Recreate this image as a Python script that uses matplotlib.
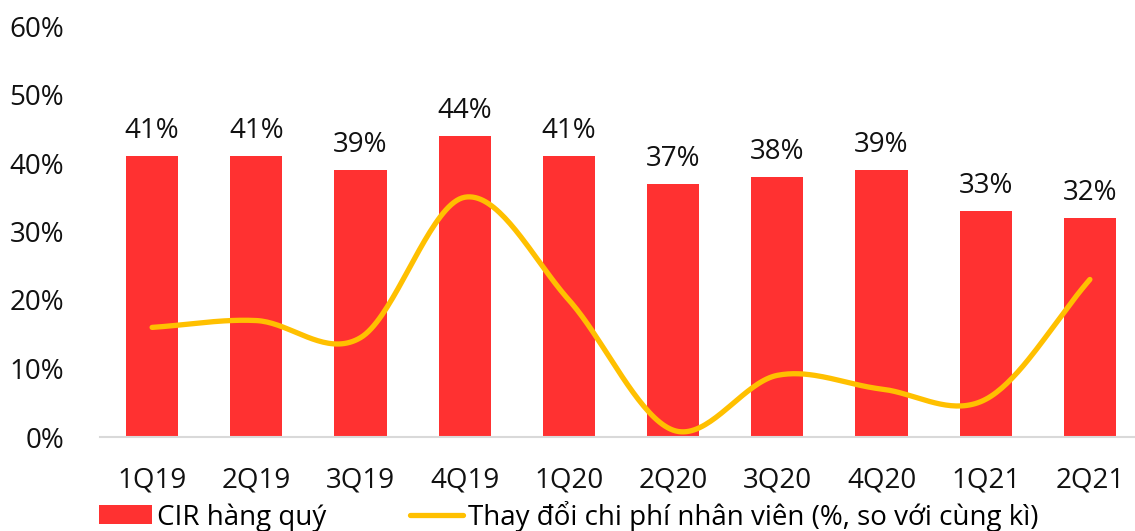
import numpy as np
import matplotlib.pyplot as plt
from matplotlib.ticker import PercentFormatter

plt.rcParams['font.family'] = ['Open Sans', 'DejaVu Sans']

quarters = ["1Q19", "2Q19", "3Q19", "4Q19", "1Q20", "2Q20", "3Q20", "4Q20", "1Q21", "2Q21"]
cir = [41, 41, 39, 44, 41, 37, 38, 39, 33, 32]
staff_cost_yoy = [16, 17, 14.5, 35, 20, 1, 9, 7, 5.5, 23]

BAR_COLOR = "#FF3131"
LINE_COLOR = "#FFC000"


def smooth(xs, ys, n=40):
    # Catmull-Rom spline through the points, like Excel's smoothed line
    xs = np.asarray(xs, float)
    ys = np.asarray(ys, float)
    px = np.concatenate([[2 * xs[0] - xs[1]], xs, [2 * xs[-1] - xs[-2]]])
    py = np.concatenate([[2 * ys[0] - ys[1]], ys, [2 * ys[-1] - ys[-2]]])
    out_x, out_y = [], []
    t = np.linspace(0, 1, n)
    for i in range(1, len(px) - 2):
        for p, out in ((px, out_x), (py, out_y)):
            p0, p1, p2, p3 = p[i - 1], p[i], p[i + 1], p[i + 2]
            seg = 0.5 * ((2 * p1) + (-p0 + p2) * t
                         + (2 * p0 - 5 * p1 + 4 * p2 - p3) * t ** 2
                         + (-p0 + 3 * p1 - 3 * p2 + p3) * t ** 3)
            out.extend(seg)
    return np.array(out_x), np.array(out_y)


fig = plt.figure(figsize=(11.35, 5.31), dpi=100)
ax = fig.add_axes([100 / 1135, 94 / 531, 1042 / 1135, 411 / 531])

x = np.arange(len(quarters))
bars = ax.bar(x, cir, width=0.5, color=BAR_COLOR, label="CIR hàng quý", zorder=2)
for xi, v in zip(x, cir):
    ax.text(xi, v + 1.6, f"{v}%", ha="center", va="bottom", fontsize=20, color="#111111")

sx, sy = smooth(x, staff_cost_yoy)
line, = ax.plot(sx, sy, color=LINE_COLOR, lw=3.8, solid_capstyle="round",
                label="Thay đổi chi phí nhân viên (%, so với cùng kì)", zorder=3)

ax.set_xlim(-0.5, 9.5)
ax.set_ylim(0, 60)
ax.set_yticks(range(0, 61, 10))
ax.yaxis.set_major_formatter(PercentFormatter(decimals=0))
ax.set_xticks(x)
ax.set_xticklabels(quarters)
ax.tick_params(axis="both", length=0, labelsize=20, colors="#111111")
ax.tick_params(axis="y", pad=26)
ax.tick_params(axis="x", pad=21)
for side in ("top", "right", "left"):
    ax.spines[side].set_visible(False)
ax.spines["bottom"].set_color("#D9D9D9")
ax.spines["bottom"].set_linewidth(1.5)

leg = fig.legend(handles=[bars, line], loc="center left", bbox_to_anchor=(85 / 1135, 1 - 516 / 531),
                 ncol=2, frameon=False, borderpad=0, fontsize=20, handlelength=1.9,
                 handleheight=0.65, handletextpad=0.2, columnspacing=3.0)
leg.get_lines()[0].set_solid_capstyle("round")

fig.savefig("out.png", dpi=100)
